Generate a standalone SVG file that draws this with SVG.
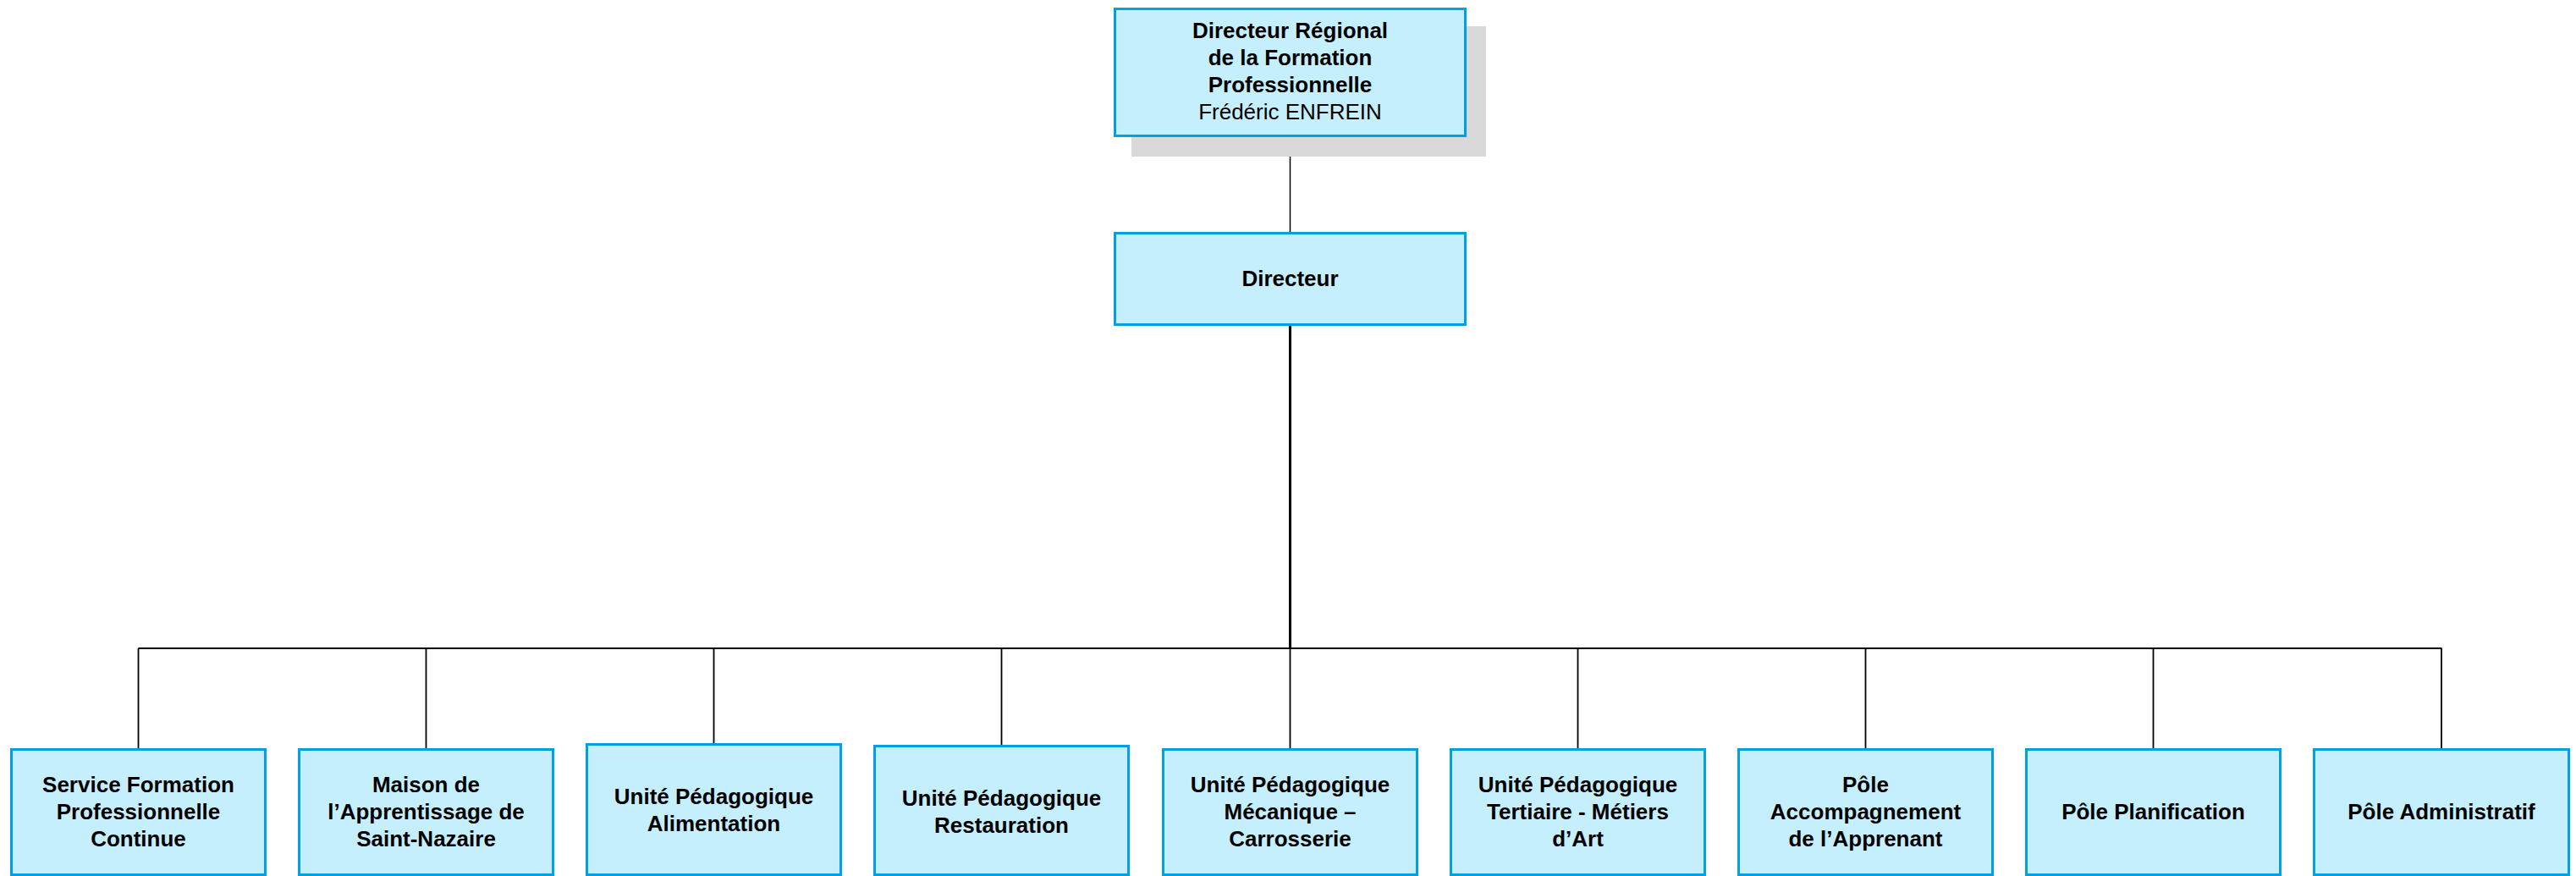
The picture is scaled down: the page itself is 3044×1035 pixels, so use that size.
<svg xmlns="http://www.w3.org/2000/svg" width="3044" height="1035" viewBox="0 0 3044 1035">
<style>
.box{fill:#c6effe;stroke:#00a0e3;stroke-width:3}
.shadow{fill:#d9d9d9}
.t{font-family:"Liberation Sans",Arial,sans-serif;font-size:26px;font-weight:bold;fill:#000;text-anchor:middle}
.n{font-weight:normal}
.c{stroke:#000;fill:none}
</style>
<rect width="3044" height="1035" fill="#fff"/>
<g id="connectors">
<line class="c" x1="1524.5" y1="162" x2="1524.5" y2="274" stroke-width="1.5"/>
<line class="c" x1="1524.5" y1="385" x2="1524.5" y2="766" stroke-width="3"/>
<line class="c" x1="163.5" y1="766" x2="2885.5" y2="766" stroke-width="2"/>
<line class="c" x1="163.5" y1="766" x2="163.5" y2="884" stroke-width="1.8"/>
<line class="c" x1="503.5" y1="766" x2="503.5" y2="884" stroke-width="1.8"/>
<line class="c" x1="843.5" y1="766" x2="843.5" y2="878" stroke-width="1.8"/>
<line class="c" x1="1183.5" y1="766" x2="1183.5" y2="880" stroke-width="1.8"/>
<line class="c" x1="1524.5" y1="766" x2="1524.5" y2="884" stroke-width="1.8"/>
<line class="c" x1="1864.5" y1="766" x2="1864.5" y2="884" stroke-width="1.8"/>
<line class="c" x1="2204.5" y1="766" x2="2204.5" y2="884" stroke-width="1.8"/>
<line class="c" x1="2544.5" y1="766" x2="2544.5" y2="884" stroke-width="1.8"/>
<line class="c" x1="2885" y1="766" x2="2885" y2="884" stroke-width="1.8"/>
</g>
<g id="node-drfp">
<rect class="shadow" x="1337" y="31" width="419" height="154"/>
<rect class="box" x="1317.5" y="10.5" width="414" height="150"/>
<text class="t" x="1524.5" y="45">Directeur Régional</text>
<text class="t" x="1524.5" y="77">de la Formation</text>
<text class="t" x="1524.5" y="109">Professionnelle</text>
<text class="t n" x="1524.5" y="141">Frédéric ENFREIN</text>
</g>
<g id="node-directeur">
<rect class="box" x="1317.5" y="275.5" width="414" height="108"/>
<text class="t" x="1524.5" y="338">Directeur</text>
</g>
<g id="node-sfpc">
<rect class="box" x="13.5" y="885.5" width="300" height="148"/>
<text class="t" x="163.5" y="936">Service Formation</text>
<text class="t" x="163.5" y="968">Professionnelle</text>
<text class="t" x="163.5" y="1000">Continue</text>
</g>
<g id="node-maison">
<rect class="box" x="353.5" y="885.5" width="300" height="148"/>
<text class="t" x="503.5" y="936">Maison de</text>
<text class="t" x="503.5" y="968">l’Apprentissage de</text>
<text class="t" x="503.5" y="1000">Saint-Nazaire</text>
</g>
<g id="node-alimentation">
<rect class="box" x="693.5" y="879.5" width="300" height="154"/>
<text class="t" x="843.5" y="950">Unité Pédagogique</text>
<text class="t" x="843.5" y="982">Alimentation</text>
</g>
<g id="node-restauration">
<rect class="box" x="1033.5" y="881.5" width="300" height="152"/>
<text class="t" x="1183.5" y="952">Unité Pédagogique</text>
<text class="t" x="1183.5" y="984">Restauration</text>
</g>
<g id="node-mecanique">
<rect class="box" x="1374.5" y="885.5" width="300" height="148"/>
<text class="t" x="1524.5" y="936">Unité Pédagogique</text>
<text class="t" x="1524.5" y="968">Mécanique –</text>
<text class="t" x="1524.5" y="1000">Carrosserie</text>
</g>
<g id="node-tertiaire">
<rect class="box" x="1714.5" y="885.5" width="300" height="148"/>
<text class="t" x="1864.5" y="936">Unité Pédagogique</text>
<text class="t" x="1864.5" y="968">Tertiaire - Métiers</text>
<text class="t" x="1864.5" y="1000">d’Art</text>
</g>
<g id="node-accompagnement">
<rect class="box" x="2054.5" y="885.5" width="300" height="148"/>
<text class="t" x="2204.5" y="936">Pôle</text>
<text class="t" x="2204.5" y="968">Accompagnement</text>
<text class="t" x="2204.5" y="1000">de l’Apprenant</text>
</g>
<g id="node-planification">
<rect class="box" x="2394.5" y="885.5" width="300" height="148"/>
<text class="t" x="2544.5" y="968">Pôle Planification</text>
</g>
<g id="node-administratif">
<rect class="box" x="2734.5" y="885.5" width="301" height="148"/>
<text class="t" x="2885" y="968">Pôle Administratif</text>
</g>
</svg>
